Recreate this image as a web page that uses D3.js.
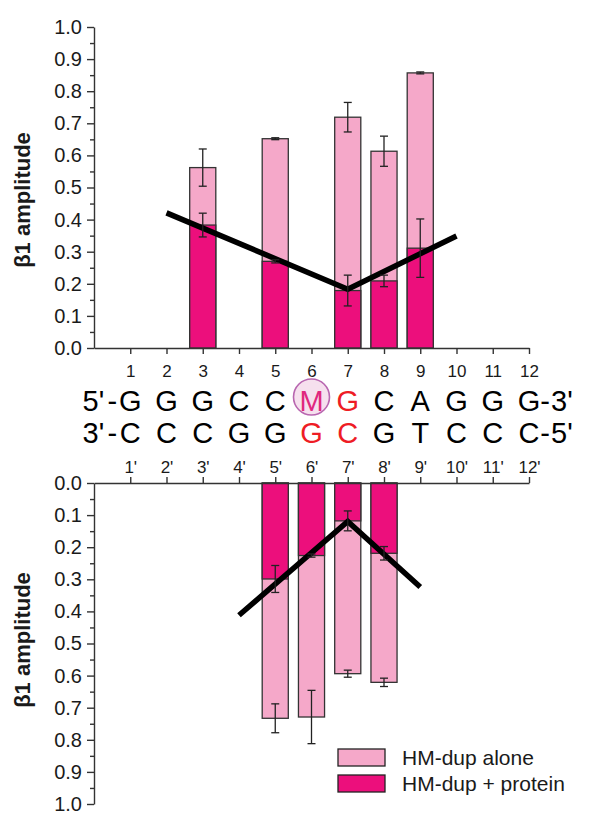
<!DOCTYPE html>
<html>
<head>
<meta charset="utf-8">
<script src="https://cdn.jsdelivr.net/npm/d3@7"></script>
<style>
  body { margin: 0; background: #fff; }
  text { font-family: Arial, "Liberation Sans", sans-serif; }
</style>
</head>
<body>
<script>
// données
const positions = d3.range(1, 13);
const brin1 = ["G","G","G","C","C","M","G","C","A","G","G","G"];
const brin2 = ["C","C","C","G","G","G","C","G","T","C","C","C"];
const rouge1 = [7];        // positions en rouge sur le brin 5'->3'
const rouge2 = [6, 7];     // positions en rouge sur le brin 3'->5'
const yTicks = d3.range(0, 11).map(d => d / 10);
const yMinor = d3.range(0, 10).map(d => d / 10 + 0.05);

// brin du haut
const hautPos = [3, 5, 7, 8, 9];
const hautSeul = [0.562, 0.652, 0.719, 0.613, 0.857];
const hautSeulErr = [0.058, 0.003, 0.046, 0.047, 0.003];
const hautProt = [0.383, 0.270, 0.179, 0.209, 0.311];
const hautProtErr = [0.037, 0.005, 0.048, 0.018, 0.091];
const hautLigne = [[2, 0.421], [7, 0.183], [10, 0.349]];

// brin du bas
const basPos = [5, 6, 7, 8];
const basSeul = [0.733, 0.729, 0.594, 0.621];
const basSeulErr = [0.045, 0.083, 0.011, 0.013];
const basProt = [0.299, 0.226, 0.118, 0.219];
const basProtErr = [0.042, 0.005, 0.031, 0.021];
const basLigne = [[4, 0.412], [7, 0.120], [9, 0.324]];

const legende = ["HM-dup alone", "HM-dup + protein"];
const couleurs = ["#f5a8c9", "#ec0f7c"];

const svg = d3.select("body").append("svg")
  .attr("width", 589)
  .attr("height", 814);

const x = d3.scaleLinear().domain([0, 12]).range([94, 529]);
const yHaut = d3.scaleLinear().domain([0, 1]).range([348, 27]);
const yBas = d3.scaleLinear().domain([0, 1]).range([483, 804]);
const largeur = x(0.72) - x(0);

function styleAxe(g, taille) {
  g.selectAll("path, line").attr("stroke", "#333").attr("stroke-width", 1.4);
  g.selectAll("text").attr("fill", "#1a1a1a").style("font-size", taille + "px");
}

function panneau(y, pos, seul, seulErr, prot, protErr, ligne) {
  const g = svg.append("g");
  const donnees = pos.map((p, i) => ({p, seul: seul[i], se: seulErr[i], prot: prot[i], pe: protErr[i]}));

  // barres "alone"
  g.selectAll("rect.seul").data(donnees).enter().append("rect")
    .attr("x", d => x(d.p) - largeur / 2)
    .attr("y", d => Math.min(y(0), y(d.seul)))
    .attr("width", largeur)
    .attr("height", d => Math.abs(y(d.seul) - y(0)))
    .style("fill", couleurs[0])
    .style("stroke", "#333")
    .style("stroke-width", 1.3);

  // barres "+ protein"
  g.selectAll("rect.prot").data(donnees).enter().append("rect")
    .attr("x", d => x(d.p) - largeur / 2)
    .attr("y", d => Math.min(y(0), y(d.prot)))
    .attr("width", largeur)
    .attr("height", d => Math.abs(y(d.prot) - y(0)))
    .style("fill", couleurs[1])
    .style("stroke", "#333")
    .style("stroke-width", 1.3);

  // ligne noire
  g.append("path")
    .datum(ligne)
    .attr("d", d3.line().x(d => x(d[0])).y(d => y(d[1])))
    .style("fill", "none")
    .style("stroke", "#000")
    .style("stroke-width", 5.5);

  // barres d'erreur
  const erreurs = [];
  donnees.forEach(d => {
    erreurs.push({p: d.p, v: d.seul, e: d.se});
    erreurs.push({p: d.p, v: d.prot, e: d.pe});
  });
  const eb = g.selectAll("g.err").data(erreurs).enter().append("g")
    .style("stroke", "#222").style("stroke-width", 1.3);
  eb.append("line")
    .attr("x1", d => x(d.p)).attr("x2", d => x(d.p))
    .attr("y1", d => y(d.v - d.e)).attr("y2", d => y(d.v + d.e));
  eb.append("line")
    .attr("x1", d => x(d.p) - 4).attr("x2", d => x(d.p) + 4)
    .attr("y1", d => y(d.v - d.e)).attr("y2", d => y(d.v - d.e));
  eb.append("line")
    .attr("x1", d => x(d.p) - 4).attr("x2", d => x(d.p) + 4)
    .attr("y1", d => y(d.v + d.e)).attr("y2", d => y(d.v + d.e));

  // axe des Y
  svg.append("g")
    .attr("transform", "translate(94,0)")
    .call(d3.axisLeft(y).tickValues(yTicks).tickFormat(d3.format(".1f"))
      .tickSize(7).tickSizeOuter(0).tickPadding(5))
    .call(a => styleAxe(a, 20));
  svg.append("g")
    .attr("transform", "translate(94,0)")
    .call(d3.axisLeft(y).tickValues(yMinor).tickFormat("").tickSize(4).tickSizeOuter(0))
    .call(a => a.select(".domain").remove())
    .call(a => styleAxe(a, 20));
}

panneau(yHaut, hautPos, hautSeul, hautSeulErr, hautProt, hautProtErr, hautLigne);
panneau(yBas, basPos, basSeul, basSeulErr, basProt, basProtErr, basLigne);

// axes des X
svg.append("g")
  .attr("transform", "translate(0,348)")
  .call(d3.axisBottom(x).tickValues(positions).tickSize(6).tickSizeOuter(0).tickPadding(11))
  .call(a => styleAxe(a, 17));
svg.append("g")
  .attr("transform", "translate(0,483)")
  .call(d3.axisTop(x).tickValues(positions).tickFormat(d => d + "'")
    .tickSize(6).tickSizeOuter(0).tickPadding(4))
  .call(a => styleAxe(a, 17));

// titres des axes Y
[200, 640].forEach(cy => {
  svg.append("text")
    .attr("transform", `translate(30,${cy}) rotate(-90)`)
    .attr("text-anchor", "middle")
    .style("font-size", "22px")
    .style("font-weight", "bold")
    .style("fill", "#1a1a1a")
    .text("β1 amplitude");
});

// séquence
svg.append("circle")
  .attr("cx", x(6))
  .attr("cy", 397)
  .attr("r", 18)
  .style("fill", "#f6e0ee")
  .style("stroke", "#b866b0")
  .style("stroke-width", 1.6);

function brin(lettres, rouges, base, debut, fin) {
  svg.selectAll(null).data(lettres).enter().append("text")
    .attr("x", (d, i) => x(i + 1))
    .attr("y", base)
    .attr("text-anchor", "middle")
    .style("font-size", "29px")
    .style("fill", (d, i) => d === "M" ? "#e0287f" : (rouges.includes(i + 1) ? "#ee1c25" : "#000"))
    .text(d => d);
  // extrémités : "5'" puis "-" un peu détaché
  svg.append("text")
    .attr("x", x(1) - 26).attr("y", base)
    .attr("text-anchor", "end")
    .style("font-size", "29px")
    .text(debut);
  svg.append("text")
    .attr("x", x(1) - 18).attr("y", base)
    .attr("text-anchor", "middle")
    .style("font-size", "29px")
    .text("-");
  svg.append("text")
    .attr("x", x(12) + 16).attr("y", base)
    .attr("text-anchor", "middle")
    .style("font-size", "29px")
    .text("-");
  svg.append("text")
    .attr("x", x(12) + 22).attr("y", base)
    .style("font-size", "29px")
    .text(fin);
}
brin(brin1, rouge1, 411, "5'", "3'");
brin(brin2, rouge2, 443, "3'", "5'");

// légende
const leg = svg.append("g").attr("transform", "translate(338,749)");
legende.forEach((t, i) => {
  leg.append("rect")
    .attr("x", 0).attr("y", i * 26)
    .attr("width", 47).attr("height", 17)
    .style("fill", couleurs[i])
    .style("stroke", "#222")
    .style("stroke-width", 1.3);
  leg.append("text")
    .attr("x", 64).attr("y", i * 26 + 16)
    .style("font-size", "21px")
    .style("fill", "#1a1a1a")
    .text(t);
});
</script>
</body>
</html>
